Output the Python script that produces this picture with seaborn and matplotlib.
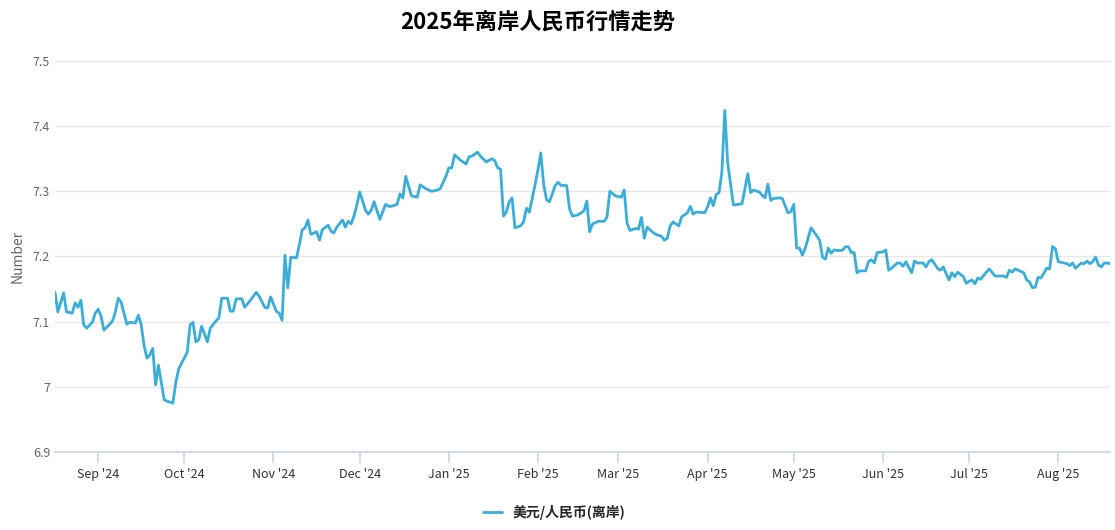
import matplotlib
matplotlib.use("Agg")
import matplotlib.pyplot as plt
import matplotlib.dates as mdates
import matplotlib.ticker as mticker
import pandas as pd
import seaborn as sns

start = pd.Timestamp("2024-08-17")
day_offsets = [
    0, 1, 3, 4, 6, 7, 8, 9, 10, 11, 13, 14, 15, 16, 17, 19, 20, 21, 22, 23,
    24, 25, 26, 28, 29, 30, 31, 32, 33, 34, 35, 36, 38, 39, 41, 42, 43, 44, 46, 47,
    48, 49, 50, 51, 53, 54, 56, 57, 58, 60, 61, 62, 63, 65, 66, 68, 70, 71, 73, 74,
    75, 77, 78, 79, 80, 81, 82, 84, 85, 86, 87, 88, 89, 91, 92, 93, 95, 96, 97, 98,
    100, 101, 102, 103, 104, 105, 106, 108, 109, 110, 111, 113, 115, 116, 117, 119, 120, 121, 122, 124,
    126, 127, 128, 129, 131, 133, 134, 136, 137, 138, 139, 141, 143, 144, 145, 147, 148, 150, 152, 153,
    154, 155, 156, 157, 158, 159, 160, 162, 163, 164, 165, 167, 168, 169, 170, 171, 172, 173, 174, 175,
    176, 178, 179, 180, 182, 184, 185, 186, 187, 189, 191, 192, 193, 195, 197, 198, 199, 200, 202, 203,
    204, 205, 206, 208, 209, 211, 212, 213, 214, 215, 217, 218, 219, 220, 221, 222, 223, 224, 226, 227,
    228, 229, 230, 231, 232, 233, 234, 236, 239, 240, 241, 242, 243, 245, 246, 247, 248, 249, 250, 252,
    253, 254, 255, 256, 257, 258, 259, 260, 261, 263, 264, 266, 267, 268, 269, 270, 271, 273, 274, 275,
    276, 277, 278, 279, 280, 282, 283, 284, 285, 286, 288, 289, 290, 291, 293, 294, 295, 296, 298, 299,
    300, 302, 303, 304, 305, 307, 308, 309, 311, 312, 313, 314, 316, 317, 318, 319, 320, 321, 322, 324,
    325, 327, 329, 330, 331, 332, 333, 334, 337, 338, 339, 340, 341, 342, 343, 345, 346, 347, 348, 349,
    351, 352, 353, 354, 355, 357, 358, 359, 360, 361, 362, 363, 364, 365, 366, 367,
]
rates = [
    7.145, 7.115, 7.144, 7.115, 7.113, 7.129, 7.122, 7.133, 7.095, 7.090, 7.099, 7.113, 7.119, 7.109, 7.087, 7.096, 7.101, 7.115, 7.136, 7.130,
    7.113, 7.096, 7.099, 7.098, 7.110, 7.095, 7.063, 7.044, 7.049, 7.059, 7.003, 7.033, 6.980, 6.978, 6.975, 7.006, 7.027, 7.036, 7.053, 7.095,
    7.099, 7.069, 7.072, 7.093, 7.069, 7.090, 7.101, 7.106, 7.136, 7.136, 7.116, 7.116, 7.135, 7.135, 7.122, 7.133, 7.145, 7.139, 7.122, 7.121,
    7.138, 7.116, 7.113, 7.102, 7.202, 7.152, 7.199, 7.198, 7.218, 7.241, 7.244, 7.256, 7.234, 7.238, 7.225, 7.241, 7.248, 7.239, 7.236, 7.245,
    7.256, 7.245, 7.254, 7.250, 7.262, 7.279, 7.299, 7.271, 7.265, 7.271, 7.284, 7.257, 7.280, 7.277, 7.277, 7.280, 7.296, 7.290, 7.323, 7.293,
    7.291, 7.310, 7.307, 7.304, 7.300, 7.302, 7.304, 7.323, 7.336, 7.336, 7.356, 7.348, 7.342, 7.353, 7.354, 7.360, 7.354, 7.345, 7.350, 7.347,
    7.336, 7.334, 7.262, 7.268, 7.284, 7.290, 7.244, 7.247, 7.253, 7.274, 7.268, 7.310, 7.333, 7.359, 7.310, 7.287, 7.284, 7.296, 7.309, 7.314,
    7.309, 7.309, 7.273, 7.262, 7.264, 7.270, 7.285, 7.238, 7.250, 7.254, 7.254, 7.260, 7.300, 7.293, 7.291, 7.302, 7.251, 7.240, 7.243, 7.242,
    7.260, 7.228, 7.245, 7.237, 7.234, 7.231, 7.225, 7.228, 7.247, 7.253, 7.247, 7.261, 7.264, 7.267, 7.277, 7.265, 7.268, 7.268, 7.267, 7.276,
    7.290, 7.278, 7.295, 7.298, 7.330, 7.424, 7.344, 7.279, 7.281, 7.304, 7.327, 7.298, 7.302, 7.299, 7.294, 7.290, 7.311, 7.286, 7.289, 7.290,
    7.289, 7.278, 7.267, 7.269, 7.280, 7.213, 7.213, 7.202, 7.213, 7.244, 7.238, 7.225, 7.199, 7.196, 7.213, 7.205, 7.210, 7.209, 7.210, 7.215,
    7.215, 7.206, 7.206, 7.175, 7.178, 7.178, 7.192, 7.195, 7.190, 7.206, 7.207, 7.210, 7.179, 7.182, 7.190, 7.190, 7.185, 7.192, 7.175, 7.193,
    7.190, 7.190, 7.184, 7.192, 7.195, 7.182, 7.179, 7.184, 7.164, 7.175, 7.169, 7.176, 7.169, 7.159, 7.162, 7.164, 7.158, 7.167, 7.165, 7.176,
    7.181, 7.170, 7.170, 7.170, 7.168, 7.179, 7.176, 7.181, 7.175, 7.164, 7.161, 7.152, 7.153, 7.168, 7.167, 7.182, 7.181, 7.215, 7.212, 7.192,
    7.190, 7.189, 7.186, 7.190, 7.182, 7.190, 7.189, 7.193, 7.189, 7.192, 7.199, 7.187, 7.184, 7.190, 7.190, 7.189,
]
series_name = "美元/人民币(离岸)"
title = "2025年离岸人民币行情走势"

df = pd.DataFrame({"date": start + pd.to_timedelta(day_offsets, unit="D"), "rate": rates})

sns.set_theme(style="white")
plt.rcParams["font.family"] = ["Noto Sans CJK SC", "DejaVu Sans"]

fig, ax = plt.subplots(figsize=(11.15, 5.3), dpi=100)
fig.subplots_adjust(left=55 / 1115, right=1110 / 1115, top=1 - 61 / 530, bottom=1 - 452 / 530)

sns.lineplot(data=df, x="date", y="rate", ax=ax, color="#3aadd9", linewidth=2, label=series_name)

ax.set_ylim(6.9, 7.5)
ax.set_xlim(df["date"].iloc[0], df["date"].iloc[-1])
ax.yaxis.set_major_locator(mticker.MultipleLocator(0.1))
ax.yaxis.set_major_formatter(mticker.FuncFormatter(lambda v, p: f"{v:.1f}".rstrip("0").rstrip(".")))
ax.grid(axis="y", color="#e6e6e6", linewidth=1)
ax.xaxis.set_major_locator(mdates.MonthLocator())
ax.xaxis.set_major_formatter(mdates.DateFormatter("%b '%y"))
for s in ["top", "right", "left"]:
    ax.spines[s].set_visible(False)
ax.spines["bottom"].set_color("#ccd6eb")
ax.tick_params(axis="x", colors="#333333", labelsize=9, length=8, color="#ccd6eb", direction="out", bottom=True)
ax.tick_params(axis="y", colors="#666666", labelsize=9, length=0)
ax.set_xlabel("")
ax.set_ylabel("Number", color="#666666", fontsize=10, labelpad=6)

fig.suptitle(title, fontsize=16, fontweight="bold", color="black", x=0.482, y=0.98)
handles, labels = ax.get_legend_handles_labels()
ax.get_legend().remove()
fig.legend(handles, labels, loc="lower center", bbox_to_anchor=(0.497, -0.005), frameon=False,
           prop={"size": 10, "weight": "bold"}, handlelength=1.4)

fig.savefig("out.png", dpi=100)
